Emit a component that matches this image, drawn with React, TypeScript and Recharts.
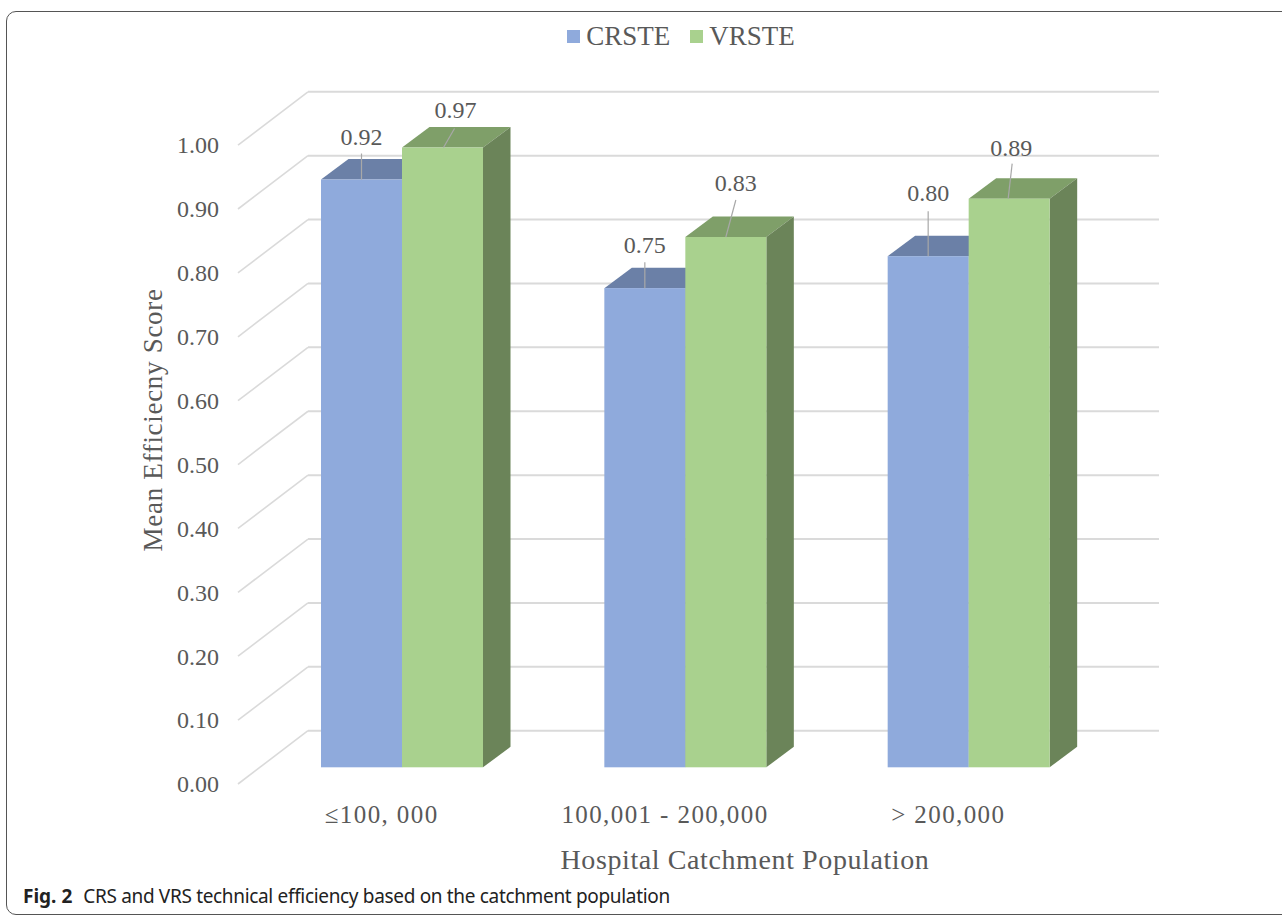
import React from 'react';
import { BarChart, Bar, XAxis, YAxis, ReferenceLine, Legend, LabelList } from 'recharts';

const categories = ['≤100, 000', '100,001 - 200,000', '> 200,000'];
const crste = [0.92, 0.75, 0.8];
const vrste = [0.97, 0.83, 0.89];
const yTicks = [0, 0.1, 0.2, 0.3, 0.4, 0.5, 0.6, 0.7, 0.8, 0.9, 1];

const rows = categories.map((name, i) => ({ name, CRSTE: crste[i], VRSTE: vrste[i] }));

const SERIF = '"Liberation Serif", serif';
const TEXT = '#595959';
const BLUE = '#8FAADC';
const BLUE_TOP = '#6B80A7';
const GREEN = '#A9D18E';
const GREEN_TOP = '#7F9F69';
const GREEN_SIDE = '#6B8459';
const GRID = '#DADADA';
const LEADER = '#A8A8A8';

const DEPTH_X = 27.5;
const DEPTH_Y = 20.5;

const labelOffsetsCrs = [
  { tx: 0, ty: -43, lx: 0, ly: -26, ex: 0 },
  { tx: 0, ty: -43, lx: 0, ly: -26, ex: 0 },
  { tx: 0, ty: -63, lx: 0, ly: -45, ex: 0 },
];
const labelOffsetsVrs = [
  { tx: 13, ty: -38, lx: 12, ly: -19, ex: 1 },
  { tx: 10, ty: -54, lx: 10, ly: -37, ex: 0 },
  { tx: 2, ty: -51, lx: 3, ly: -35, ex: -1 },
];

const makeBar = (front: string, top: string, side: string) => (p: any) => {
  const { x, y, width, height } = p;
  const b = y + height;
  return (
    <g>
      <polygon points={`${x},${y} ${x + DEPTH_X},${y - DEPTH_Y} ${x + width + DEPTH_X},${y - DEPTH_Y} ${x + width},${y}`} fill={top} />
      <polygon points={`${x + width},${y} ${x + width + DEPTH_X},${y - DEPTH_Y} ${x + width + DEPTH_X},${b - DEPTH_Y} ${x + width},${b}`} fill={side} />
      <rect x={x} y={y} width={width} height={height} fill={front} />
    </g>
  );
};

const gridShape = (p: any) => {
  const y = p.y1;
  return (
    <g>
      <polyline points={`238,${y + 16.7} 308,${y - 36.6}`} fill="none" stroke={GRID} strokeWidth={1.6} />
      <line x1={308} y1={y - 36.6} x2={1159} y2={y - 36.6} stroke={GRID} strokeWidth={2} />
    </g>
  );
};

const makeLabel = (offsets: any[]) => (p: any) => {
  const { x, y, width, value, index } = p;
  const o = offsets[index];
  const cx = x + width / 2;
  return (
    <g>
      <line x1={cx + o.lx} y1={y + o.ly} x2={cx + o.ex} y2={y} stroke={LEADER} strokeWidth={1.2} />
      <text x={cx + o.tx} y={y + o.ty} textAnchor="middle" dominantBaseline="central" fontFamily={SERIF} fontSize={24} fill={TEXT}>
        {Number(value).toFixed(2)}
      </text>
    </g>
  );
};

const legendContent = (p: any) => (
  <div style={{ display: 'flex', justifyContent: 'center', alignItems: 'center', fontFamily: SERIF, fontSize: 27, color: TEXT, lineHeight: '30px' }}>
    {p.payload.map((e: any, i: number) => (
      <span key={e.value} style={{ display: 'flex', alignItems: 'center', marginLeft: i ? 20 : 0 }}>
        <span style={{ width: 13, height: 13, background: e.color, marginRight: 6, display: 'inline-block' }} />
        {e.value}
      </span>
    ))}
  </div>
);

export default function App() {
  return (
    <div style={{ position: 'absolute', left: 0, top: 0, width: 1282, height: 915, overflow: 'hidden', background: '#fff' }}>
      <div style={{ position: 'absolute', left: 6, top: 11, width: 1320, height: 904, boxSizing: 'border-box', border: '1.5px solid #555', borderRadius: 10 }} />
      <div style={{ position: 'absolute', left: 0, top: 0 }}>
        <BarChart width={1282} height={915} data={rows} margin={{ top: 98.4, right: 172, bottom: 0, left: 0 }} barSize={81} barGap={0}>
          <XAxis
            dataKey="name"
            axisLine={false}
            tickLine={false}
            height={147.7}
            tickMargin={32}
            interval={0}
            tick={{ fontFamily: SERIF, fontSize: 25, letterSpacing: 1.4, fill: TEXT, dx: -20 }}
            label={{ value: 'Hospital Catchment Population', position: 'center', dx: 60, dy: 18, fontFamily: SERIF, fontSize: 28, letterSpacing: 0.6, fill: TEXT }}
          />
          <YAxis
            domain={[0, 1]}
            ticks={yTicks}
            width={260}
            axisLine={false}
            tickLine={false}
            tickSize={0}
            tickMargin={41}
            tickFormatter={(v: number) => v.toFixed(2)}
            tick={{ fontFamily: SERIF, fontSize: 24, fill: TEXT, dy: 16.5 }}
            label={{ value: 'Mean Efficiecny Score', angle: -90, position: 'center', dx: 22, dy: -28, fontFamily: SERIF, fontSize: 27, letterSpacing: 0.7, fill: TEXT }}
          />
          {yTicks.map((t) => (
            <ReferenceLine key={t} y={t} shape={gridShape} zIndex={-50} />
          ))}
          <Legend verticalAlign="top" wrapperStyle={{ top: 21, left: 0, width: 1362 }} content={legendContent} />
          <Bar dataKey="CRSTE" fill={BLUE} isAnimationActive={false} shape={makeBar(BLUE, BLUE_TOP, BLUE_TOP)}>
            <LabelList dataKey="CRSTE" content={makeLabel(labelOffsetsCrs)} />
          </Bar>
          <Bar dataKey="VRSTE" fill={GREEN} isAnimationActive={false} shape={makeBar(GREEN, GREEN_TOP, GREEN_SIDE)}>
            <LabelList dataKey="VRSTE" content={makeLabel(labelOffsetsVrs)} />
          </Bar>
        </BarChart>
      </div>
      <div style={{ position: 'absolute', left: 23, top: 884, fontFamily: '"Noto Sans", sans-serif', fontSize: 19, letterSpacing: -0.33, lineHeight: '24px', color: '#222', whiteSpace: 'nowrap' }}>
        <b style={{ letterSpacing: 0 }}>Fig. 2</b>
        <span style={{ marginLeft: 11 }}>CRS and VRS technical efficiency based on the catchment population</span>
      </div>
    </div>
  );
}
